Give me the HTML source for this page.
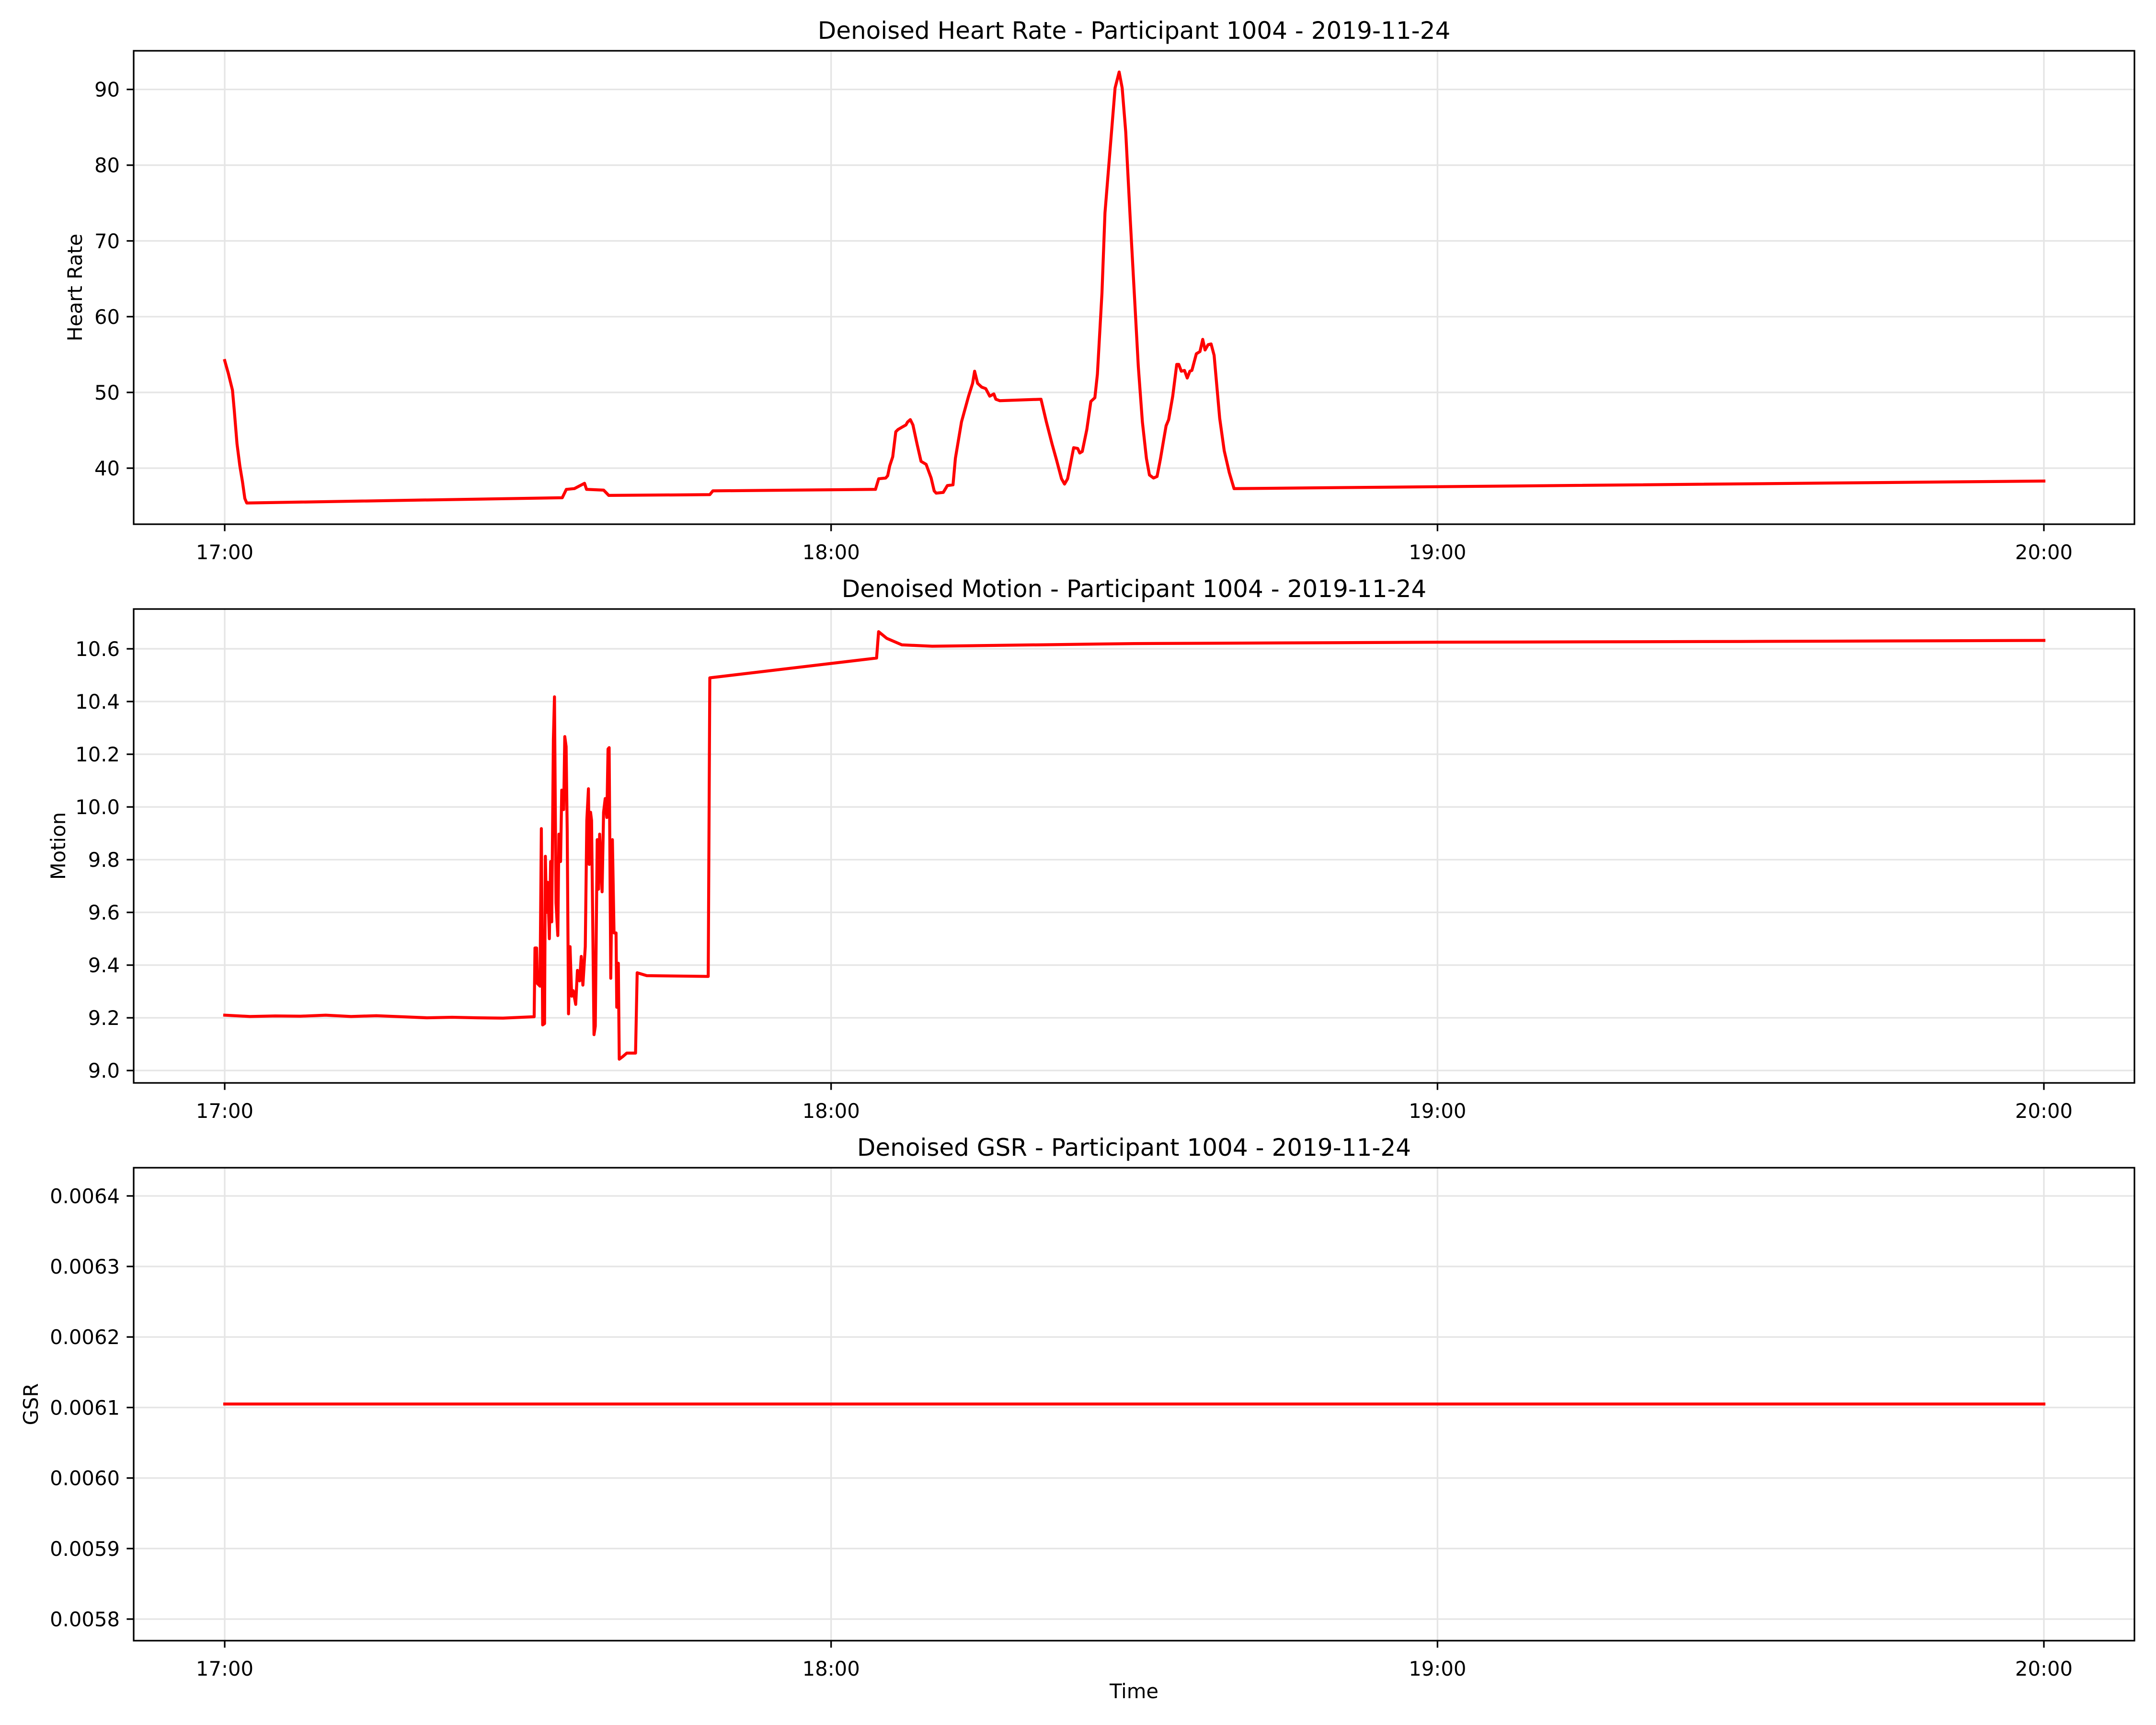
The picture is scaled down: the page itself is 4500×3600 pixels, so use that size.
<!DOCTYPE html>
<html><head><meta charset="utf-8">
<style>
html,body{margin:0;padding:0;background:#fff;}
svg{display:block;font-family:"DejaVu Sans","Liberation Sans",sans-serif;}
</style></head>
<body>
<svg id="fig" width="4500" height="3600" viewBox="0 0 4500 3600" xmlns="http://www.w3.org/2000/svg">
<rect width="4500" height="3600" fill="#fff"/>
</svg>
<script>
// ---- data (time in minutes after 17:00) ----
const xTickLabels = ["17:00","18:00","19:00","20:00"];
const xTickMinutes = [0,60,120,180];

const hrTime = [0,0.36,0.77,0.95,1.22,1.5,1.76,1.99,2.18,33.4,33.8,34.6,35.6,35.8,37.5,38,48,48.3,64.39,64.71,65.4,65.6,65.8,66.1,66.4,66.62,67,67.4,67.57,67.84,68.1,68.5,68.9,69.4,69.9,70.2,70.4,71.1,71.5,72.06,72.3,72.9,73.6,74,74.2,74.5,74.9,75.3,75.7,76.1,76.3,76.7,80.77,81.3,81.86,82.3,82.8,83.1,83.4,84,84.4,84.6,84.85,85.3,85.7,86.1,86.35,86.8,87.1,87.6,88.1,88.5,88.8,89.15,89.6,90,90.4,90.8,91.2,91.5,91.9,92.25,92.6,92.9,93.15,93.4,93.8,94.2,94.4,94.65,94.97,95.24,95.5,95.7,96.14,96.5,96.77,97,97.3,97.6,97.9,98.45,98.9,99.4,99.87,180];
const hrValue = [54.2,52.5,50.3,47.6,43.2,40.3,38.2,36,35.4,36.1,37.2,37.3,38,37.2,37.1,36.4,36.5,37,37.2,38.6,38.7,39,40.3,41.5,44.8,45.1,45.4,45.7,46.1,46.4,45.7,43.2,40.9,40.5,38.7,37,36.7,36.8,37.7,37.8,41.3,46.1,49.5,51.2,52.8,51.2,50.7,50.5,49.5,49.8,49.1,48.9,49.1,46.1,43.2,41.1,38.6,37.9,38.6,42.7,42.6,42,42.2,45.1,48.8,49.3,52.4,63.1,73.7,82,90.2,92.3,90.2,84.4,72.8,63.1,53.4,46.1,41.3,39.1,38.7,38.9,41.3,43.7,45.6,46.4,49.5,53.7,53.7,52.8,52.9,51.9,52.8,52.9,55.1,55.4,57,55.6,56.3,56.4,54.9,46.6,42.3,39.4,37.3,38.3];
const hrTicks = [40,50,60,70,80,90];

const motTime = [0,2.5,5,7.5,10,12.5,15,17.5,20,22.5,25,27.54,30.62,30.7,30.86,30.94,31.2,31.33,31.46,31.65,31.73,31.84,31.96,32.12,32.25,32.36,32.52,32.63,32.78,32.96,33.07,33.23,33.35,33.54,33.65,33.78,33.89,34.02,34.17,34.33,34.49,34.73,34.9,35.12,35.28,35.44,35.68,35.83,35.99,36.07,36.2,36.3,36.54,36.67,36.86,36.99,37.1,37.34,37.49,37.65,37.81,37.93,38.04,38.2,38.36,38.52,38.72,38.79,38.95,39.04,39.39,39.78,40.65,40.81,41.76,47.84,48,64.5,64.7,65.5,67,70,90,120,150,180];
const motValue = [9.21,9.205,9.207,9.206,9.21,9.205,9.208,9.204,9.2,9.202,9.2,9.199,9.204,9.465,9.465,9.33,9.32,9.918,9.173,9.178,9.813,9.6,9.714,9.5,9.793,9.564,10.256,10.418,9.636,9.512,9.897,9.793,10.064,9.99,10.267,10.229,9.907,9.215,9.47,9.282,9.303,9.251,9.38,9.34,9.433,9.324,9.47,9.949,10.069,9.782,9.98,9.949,9.136,9.168,9.876,9.688,9.897,9.678,9.98,10.032,9.96,10.22,10.225,9.35,9.876,9.522,9.522,9.24,9.407,9.043,9.053,9.066,9.066,9.371,9.36,9.357,10.49,10.565,10.665,10.64,10.615,10.61,10.62,10.625,10.628,10.632];
const motTicks = [9.0,9.2,9.4,9.6,9.8,10.0,10.2,10.4,10.6];

const gsrTime = [0,180];
const gsrValue = [0.006105,0.006105];
const gsrTicks = [0.0058,0.0059,0.0060,0.0061,0.0062,0.0063,0.0064];

// ---- layout ----
const NS="http://www.w3.org/2000/svg";
const svg=document.getElementById('fig');
const L=279,R=4455;
const xScale = m => 469 + m*(4266-469)/180;
function mk(tag,attrs,parent){const e=document.createElementNS(NS,tag);for(const k in attrs)e.setAttribute(k,attrs[k]);(parent||svg).appendChild(e);return e;}

function panel(key,top,bottom,ymin,ymax,ticks,fmt,times,vals,title,ylabel,ylabelX){
  const g=mk('g',{});
  
  
  const y=v=>bottom-(v-ymin)/(ymax-ymin)*(bottom-top);
  xTickMinutes.forEach((m,i)=>{
    const gl=mk('line',{x1:xScale(m),x2:xScale(m),y1:top,y2:bottom,stroke:'#e5e5e5','stroke-width':3.3},g);
    
    
  });
  ticks.forEach(v=>{
    const gl=mk('line',{x1:L,x2:R,y1:y(v),y2:y(v),stroke:'#e5e5e5','stroke-width':3.3},g);
    
    
  });
  let d='';
  times.forEach((t,i)=>{d+=(i?'L':'M')+xScale(t).toFixed(1)+' '+y(vals[i]).toFixed(1);});
  const p=mk('path',{d:d,fill:'none',stroke:'#ff0000','stroke-width':6.25,'stroke-linejoin':'round','stroke-linecap':'square'},g);
  
  
  const fr=mk('rect',{x:L,y:top,width:R-L,height:bottom-top,fill:'none',stroke:'#000','stroke-width':3.3},g);
  
  
  ticks.forEach(v=>{
    mk('line',{x1:L-14.6,x2:L,y1:y(v),y2:y(v),stroke:'#000','stroke-width':3.3},g);
    const tx=mk('text',{x:L-29,y:y(v)+15,'text-anchor':'end','font-size':41.7,fill:'#000'},g);
    tx.textContent=fmt(v);
    
    
  });
  xTickMinutes.forEach((m,i)=>{
    mk('line',{x1:xScale(m),x2:xScale(m),y1:bottom,y2:bottom+14.6,stroke:'#000','stroke-width':3.3},g);
    const tx=mk('text',{x:xScale(m),y:bottom+73,'text-anchor':'middle','font-size':41.7,fill:'#000'},g);
    tx.textContent=xTickLabels[i];
    
    
  });
  const tt=mk('text',{x:(L+R)/2,y:top-25,'text-anchor':'middle','font-size':50,fill:'#000'},g);
  tt.textContent=title;
  
  
  const cy=(top+bottom)/2;
  const yl=mk('text',{x:ylabelX,y:cy,'text-anchor':'middle','font-size':41.7,fill:'#000',transform:'rotate(-90 '+ylabelX+' '+cy+')'},g);
  yl.textContent=ylabel;
  
  
}

panel('heart-rate',106,1094,32.6,95.1,hrTicks,v=>String(v),hrTime,hrValue,'Denoised Heart Rate - Participant 1004 - 2019-11-24','Heart Rate',171);
panel('motion',1271,2260,8.953,10.751,motTicks,v=>v.toFixed(1),motTime,motValue,'Denoised Motion - Participant 1004 - 2019-11-24','Motion',136);
panel('gsr',2437,3424,0.0057694,0.00644,gsrTicks,v=>v.toFixed(4),gsrTime,gsrValue,'Denoised GSR - Participant 1004 - 2019-11-24','GSR',79);

const xl=mk('text',{x:(L+R)/2,y:3544,'text-anchor':'middle','font-size':41.7,fill:'#000'});
xl.textContent='Time';


</script>
</body></html>
